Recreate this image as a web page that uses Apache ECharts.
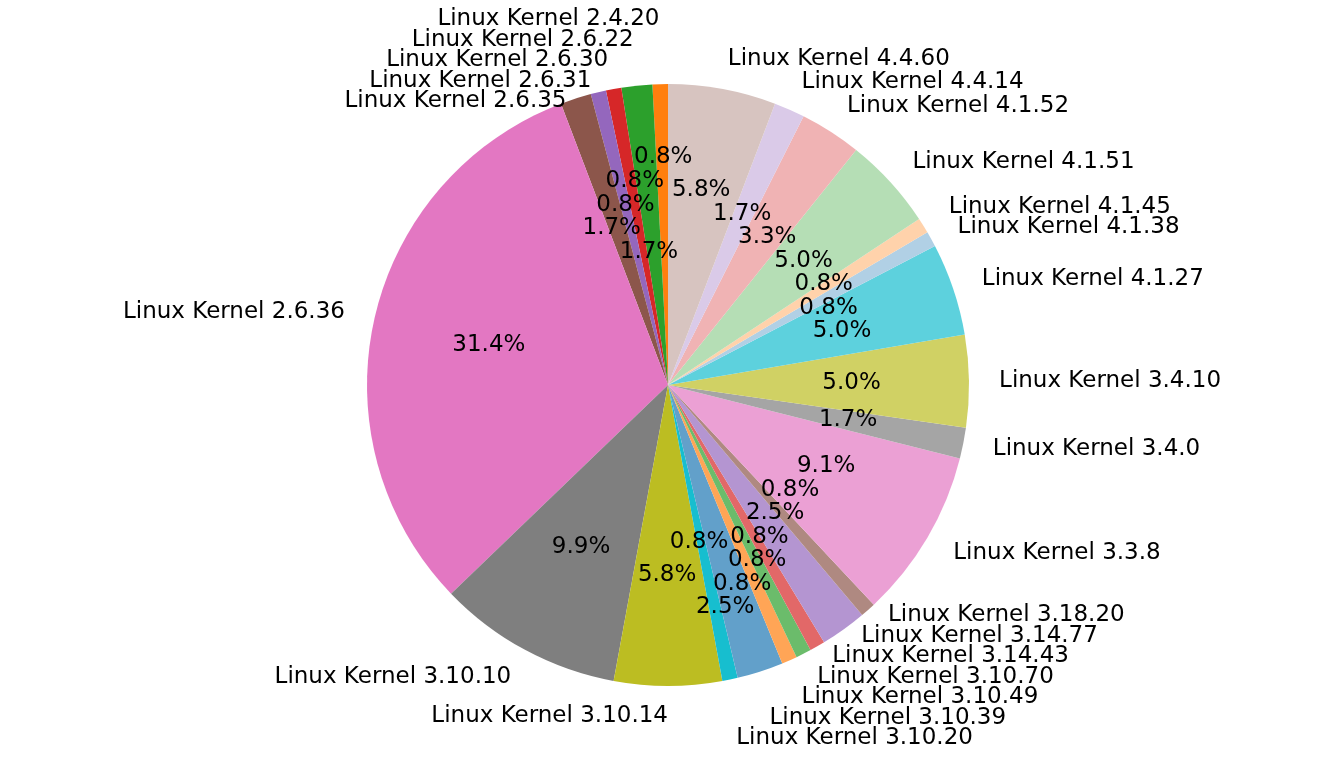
<!DOCTYPE html>
<html>
<head>
<meta charset="utf-8">
<script src="https://cdn.jsdelivr.net/npm/echarts@6/dist/echarts.min.js"></script>
<style>
  html, body { margin: 0; padding: 0; background: #fff; }
  #chart { width: 1321px; height: 779px; }
</style>
</head>
<body>
<div id="chart"></div>
<script>
// kernel versions, in the order the wedges go round (counter-clockwise from the top)
const kernels = [
  "Linux Kernel 2.4.20", "Linux Kernel 2.6.22", "Linux Kernel 2.6.30", "Linux Kernel 2.6.31",
  "Linux Kernel 2.6.35", "Linux Kernel 2.6.36", "Linux Kernel 3.10.10", "Linux Kernel 3.10.14",
  "Linux Kernel 3.10.20", "Linux Kernel 3.10.39", "Linux Kernel 3.10.49", "Linux Kernel 3.10.70",
  "Linux Kernel 3.14.43", "Linux Kernel 3.14.77", "Linux Kernel 3.18.20", "Linux Kernel 3.3.8",
  "Linux Kernel 3.4.0", "Linux Kernel 3.4.10", "Linux Kernel 4.1.27", "Linux Kernel 4.1.38",
  "Linux Kernel 4.1.45", "Linux Kernel 4.1.51", "Linux Kernel 4.1.52", "Linux Kernel 4.4.14",
  "Linux Kernel 4.4.60"
];
// device counts per kernel
const counts = [1, 2, 1, 1, 2, 38, 12, 7, 1, 3, 1, 1, 1, 3, 1, 11, 2, 6, 6, 1, 1, 6, 4, 2, 7];

// tab10 cycle, full / faded / more faded
const palette = [
  "#ff7f0e", "#2ca02c", "#d62728", "#9467bd", "#8c564b", "#e377c2", "#7f7f7f", "#bcbd22", "#17becf",
  "#62a0ca", "#ffa556", "#6bbc6b", "#e26868", "#b495d1", "#af8981", "#eba0d4", "#a5a5a5", "#d0d164", "#5dd1dd",
  "#b1d0e5", "#ffd2ab", "#b5deb5", "#f0b3b4", "#dacae8", "#d7c4c0"
];

const total = counts.reduce((a, b) => a + b, 0);
const R = 301;
const center = [668, 385];
const GAP = 20.5;   // min vertical distance between name labels
const PCT_H = 24;   // box height used to push percentages apart

const pieData = kernels.map((name, i) => ({
  name: name,
  value: counts[i],
  itemStyle: { color: palette[i] }
}));

// label boxes from the first pass; the second pass moves them apart
const nameFirst = [];
const pctFirst = [];
let nameY = null;
let pctPos = null;

function nameLayout(params) {
  if (!nameY) {
    nameFirst[params.dataIndex] = {
      y: params.labelRect.y + params.labelRect.height / 2,
      left: params.align === "right"
    };
    return {};
  }
  return { y: nameY[params.dataIndex], verticalAlign: "middle" };
}

function pctLayout(params) {
  const r = params.labelRect;
  if (!pctPos) {
    pctFirst[params.dataIndex] = { x: r.x, y: r.y + r.height / 2 - PCT_H / 2, w: r.width, h: PCT_H };
    return { hideOverlap: false };
  }
  const p = pctPos[params.dataIndex];
  return { x: p.x + p.w / 2, y: p.y + p.h / 2, align: "center", verticalAlign: "middle", hideOverlap: false };
}

// names: 1d spread on each side, keeping each group centred on where it started
function spreadSide(items) {
  items.sort((a, b) => a.y - b.y);
  const blocks = [];
  items.forEach(function (it) {
    blocks.push([it]);
    while (blocks.length > 1) {
      const b = blocks[blocks.length - 1];
      const a = blocks[blocks.length - 2];
      if (blockTop(b) - (blockTop(a) + (a.length - 1) * GAP) < GAP) {
        blocks.splice(blocks.length - 2, 2, a.concat(b));
      } else {
        break;
      }
    }
  });
  blocks.forEach(function (blk) {
    const top = blockTop(blk);
    blk.forEach(function (it, k) { nameY[it.i] = top + k * GAP; });
  });
}

function blockTop(blk) {
  let s = 0;
  blk.forEach(function (it, k) { s += it.y - k * GAP; });
  return s / blk.length;
}

// percentages: each overlapping pair is pushed apart, mostly up/down
function separate(boxes) {
  const n = boxes.length;
  for (let it = 0; it < 200; it++) {
    let hit = false;
    for (let i = 0; i < n; i++) {
      for (let j = i + 1; j < n; j++) {
        const a = boxes[i], b = boxes[j];
        const ox = Math.min(a.x + a.w, b.x + b.w) - Math.max(a.x, b.x);
        const oy = Math.min(a.y + a.h, b.y + b.h) - Math.max(a.y, b.y);
        if (ox <= 0.5 || oy <= 0.5) continue;
        hit = true;
        const cx = (a.x + a.w / 2) - (b.x + b.w / 2);
        const cy = (a.y + a.h / 2) - (b.y + b.h / 2);
        if (2.5 * ox / a.w > oy / a.h) {
          const s = (cy >= 0 ? 1 : -1) * oy * 0.3;
          a.y += s; b.y -= s;
        } else {
          const s = (cx >= 0 ? 1 : -1) * ox * 0.3;
          a.x += s; b.x -= s;
        }
      }
    }
    if (!hit) break;
  }
  return boxes;
}

const chart = echarts.init(document.getElementById("chart"));

const option = {
  backgroundColor: "#ffffff",
  animation: false,
  series: [
    {
      name: "kernels",
      type: "pie",
      center: center,
      radius: [0, R],
      startAngle: 90,
      clockwise: false,
      avoidLabelOverlap: false,
      itemStyle: { borderWidth: 0 },
      label: {
        show: true,
        position: "outside",
        formatter: "{b}",
        fontFamily: "DejaVu Sans",
        fontSize: 23,
        color: "#000",
        distanceToLabelLine: 0
      },
      labelLine: { show: false, length: R * 0.1, length2: 0 },
      labelLayout: nameLayout,
      emphasis: { disabled: true },
      data: pieData
    },
    {
      // invisible copy, only here to put the percentages at 0.6 R
      name: "pct",
      type: "pie",
      center: center,
      radius: [0, R * 1.2],
      startAngle: 90,
      clockwise: false,
      silent: true,
      avoidLabelOverlap: false,
      itemStyle: { color: "rgba(0,0,0,0)", borderWidth: 0 },
      label: {
        show: true,
        position: "inside",
        fontFamily: "DejaVu Sans",
        fontSize: 23,
        color: "#000",
        formatter: function (p) {
          return (p.value / total * 100).toFixed(1) + "%";
        }
      },
      labelLine: { show: false },
      labelLayout: pctLayout,
      emphasis: { disabled: true },
      data: counts.map((v, i) => ({ name: kernels[i], value: v }))
    }
  ]
};

chart.setOption(option);

// second pass with the moved label positions
nameY = [];
const leftSide = [], rightSide = [];
nameFirst.forEach(function (r, i) {
  (r.left ? leftSide : rightSide).push({ i: i, y: r.y });
});
spreadSide(leftSide);
spreadSide(rightSide);
pctPos = separate(pctFirst.map(b => Object.assign({}, b)));
chart.setOption(option, true);

window.onresize = function () {
  chart.resize();
};
</script>
</body>
</html>
